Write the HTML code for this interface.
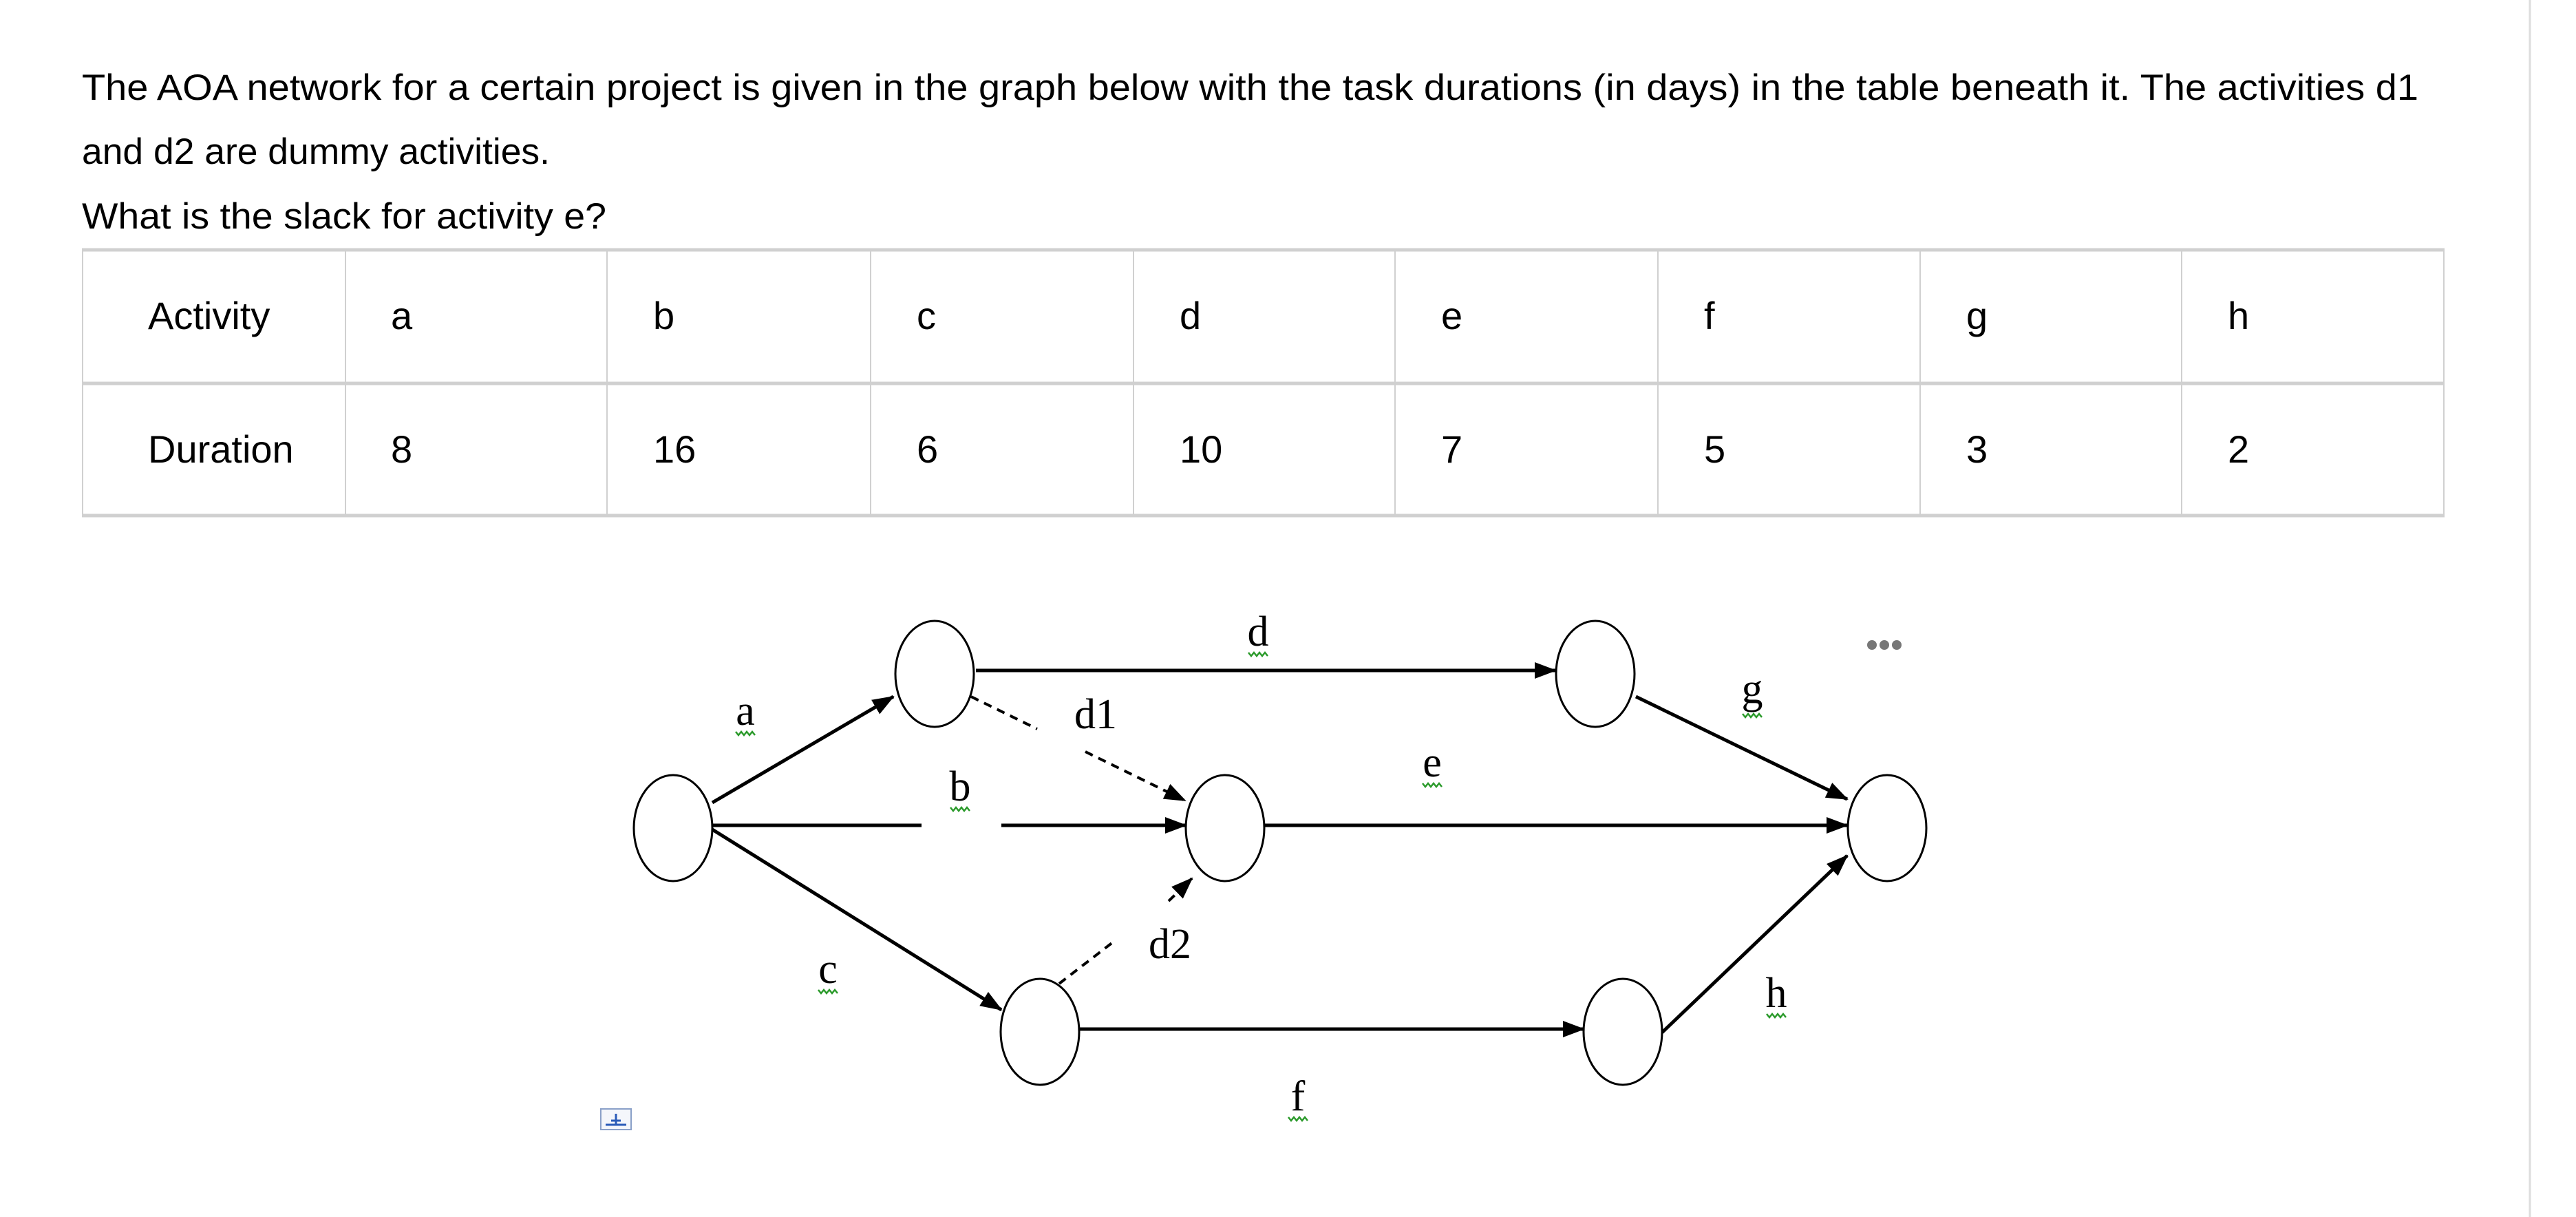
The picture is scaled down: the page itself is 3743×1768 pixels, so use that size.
<!DOCTYPE html>
<html><head><meta charset="utf-8"><style>
html,body{margin:0;padding:0;background:#fff;}
svg{display:block;}
.t{font-family:"Liberation Sans",Arial,sans-serif;font-size:53px;fill:#000;}
.tb{font-family:"Liberation Sans",Arial,sans-serif;font-size:56px;fill:#000;}
.s{font-family:"Liberation Serif","Times New Roman",serif;font-size:62px;fill:#000;}
</style></head><body>
<svg width="3743" height="1768" viewBox="0 0 3743 1768" xmlns="http://www.w3.org/2000/svg">
<defs>
<marker id="ar" markerWidth="32" markerHeight="24" refX="30" refY="12" orient="auto" markerUnits="userSpaceOnUse" viewBox="0 0 32 24">
<path d="M0,0 L32,12 L0,24 z" fill="#000"/></marker>
</defs>
<rect width="3743" height="1768" fill="#fff"/>
<line x1="3676" y1="0" x2="3676" y2="1768" stroke="#ddd" stroke-width="3"/>
<text class="t" x="119" y="145" textLength="3395" lengthAdjust="spacingAndGlyphs">The AOA network for a certain project is given in the graph below with the task durations (in days) in the table beneath it. The activities d1</text>
<text class="t" x="119" y="238" textLength="680" lengthAdjust="spacingAndGlyphs">and d2 are dummy activities.</text>
<text class="t" x="119" y="332" textLength="762" lengthAdjust="spacingAndGlyphs">What is the slack for activity e?</text>
<g stroke="#d0d0d0" stroke-width="2" fill="none">
<line x1="119" y1="363" x2="3552" y2="363" stroke-width="5"/>
<line x1="119" y1="557" x2="3552" y2="557" stroke-width="5"/>
<line x1="119" y1="749" x2="3552" y2="749" stroke-width="5"/>
<line x1="120" y1="363" x2="120" y2="749"/>
<line x1="502" y1="363" x2="502" y2="749"/>
<line x1="882" y1="363" x2="882" y2="749"/>
<line x1="1265" y1="363" x2="1265" y2="749"/>
<line x1="1647" y1="363" x2="1647" y2="749"/>
<line x1="2027" y1="363" x2="2027" y2="749"/>
<line x1="2409" y1="363" x2="2409" y2="749"/>
<line x1="2790" y1="363" x2="2790" y2="749"/>
<line x1="3170" y1="363" x2="3170" y2="749"/>
<line x1="3551" y1="363" x2="3551" y2="749"/>
</g>
<g class="tb">
<text x="215" y="478">Activity</text>
<text x="568" y="478">a</text><text x="949" y="478">b</text><text x="1332" y="478">c</text><text x="1714" y="478">d</text>
<text x="2094" y="478">e</text><text x="2476" y="478">f</text><text x="2857" y="478">g</text><text x="3237" y="478">h</text>
<text x="215" y="672">Duration</text>
<text x="568" y="672">8</text><text x="949" y="672">16</text><text x="1332" y="672">6</text><text x="1714" y="672">10</text>
<text x="2094" y="672">7</text><text x="2476" y="672">5</text><text x="2857" y="672">3</text><text x="3237" y="672">2</text>
</g>
<g stroke="#000" stroke-width="5" fill="none">
<line x1="1035" y1="1166" x2="1298" y2="1012" marker-end="url(#ar)"/>
<line x1="1035" y1="1199" x2="1339" y2="1199"/>
<line x1="1455" y1="1199" x2="1723" y2="1199" marker-end="url(#ar)"/>
<line x1="1035" y1="1205" x2="1455" y2="1467" marker-end="url(#ar)"/>
<line x1="1418" y1="974" x2="2260" y2="974" marker-end="url(#ar)"/>
<line x1="1836" y1="1199" x2="2684" y2="1199" marker-end="url(#ar)"/>
<line x1="1568" y1="1495" x2="2301" y2="1495" marker-end="url(#ar)"/>
<line x1="2377" y1="1012" x2="2684" y2="1161" marker-end="url(#ar)"/>
<line x1="2415" y1="1500" x2="2684" y2="1243" marker-end="url(#ar)"/>
</g>
<g stroke="#000" stroke-width="4" fill="none" stroke-dasharray="12,9">
<line x1="1411" y1="1012" x2="1507" y2="1059"/>
<line x1="1577" y1="1092" x2="1722" y2="1163" marker-end="url(#ar)"/>
<line x1="1539" y1="1429" x2="1622" y2="1365"/>
<line x1="1698" y1="1309" x2="1732" y2="1276" marker-end="url(#ar)"/>
</g>
<g stroke="#000" stroke-width="3" fill="#fff">
<ellipse cx="978" cy="1203" rx="57" ry="77"/>
<ellipse cx="1358" cy="979" rx="57" ry="77"/>
<ellipse cx="1780" cy="1203" rx="57" ry="77"/>
<ellipse cx="1511" cy="1499" rx="57" ry="77"/>
<ellipse cx="2318" cy="979" rx="57" ry="77"/>
<ellipse cx="2742" cy="1203" rx="57" ry="77"/>
<ellipse cx="2358" cy="1499" rx="57" ry="77"/>
</g>
<g class="s" text-anchor="middle">
<text x="1828" y="938">d</text>
<text x="1083" y="1053">a</text>
<text x="1592" y="1058">d1</text>
<text x="1395" y="1163">b</text>
<text x="2081" y="1128">e</text>
<text x="2546" y="1021">g</text>
<text x="1700" y="1392">d2</text>
<text x="1203" y="1428">c</text>
<text x="2581" y="1463">h</text>
<text x="1886" y="1613">f</text>
</g>
<g stroke="#2a9a2a" stroke-width="2.5" fill="none">
<path d="M1814,948 l4,5 l4,-5 l4,5 l4,-5 l4,5 l4,-5 l4,5"/>
<path d="M1069,1063 l4,5 l4,-5 l4,5 l4,-5 l4,5 l4,-5 l4,5"/>
<path d="M1381,1173 l4,5 l4,-5 l4,5 l4,-5 l4,5 l4,-5 l4,5"/>
<path d="M2067,1138 l4,5 l4,-5 l4,5 l4,-5 l4,5 l4,-5 l4,5"/>
<path d="M2532,1037 l4,5 l4,-5 l4,5 l4,-5 l4,5 l4,-5 l4,5"/>
<path d="M1189,1438 l4,5 l4,-5 l4,5 l4,-5 l4,5 l4,-5 l4,5"/>
<path d="M2567,1473 l4,5 l4,-5 l4,5 l4,-5 l4,5 l4,-5 l4,5"/>
<path d="M1872,1623 l4,5 l4,-5 l4,5 l4,-5 l4,5 l4,-5 l4,5"/>
</g>
<g fill="#777">
<circle cx="2720" cy="937" r="7"/><circle cx="2738" cy="937" r="7"/><circle cx="2756" cy="937" r="7"/>
</g>
<rect x="873" y="1611" width="44" height="30" fill="#f4f6fb" stroke="#8aa0c8" stroke-width="2"/>
<path d="M880,1634 h30 M895,1618 v16 M888,1628 h14" stroke="#2a5bb8" stroke-width="3"/>
</svg>
</body></html>
